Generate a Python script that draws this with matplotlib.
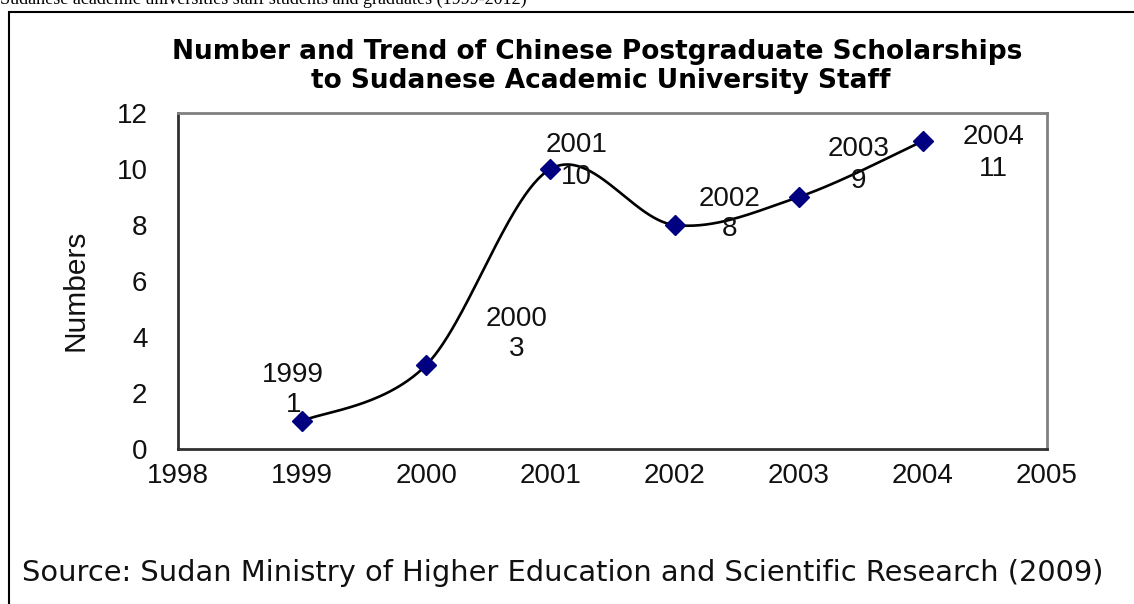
import matplotlib.pyplot as plt
import numpy as np
from matplotlib.patches import Rectangle

years = [1999, 2000, 2001, 2002, 2003, 2004]
scholarships = [1, 3, 10, 8, 9, 11]
# hand placed data labels, offset from each marker (pixels)
label_dx = [-9, 90, 26, 55, 60, 71]
label_dy = [31, 31, 8, 11, 32, -12]

plt.rcParams['font.family'] = ['Liberation Sans', 'DejaVu Sans']

DPI = 100
W, H = 1134, 604
fig = plt.figure(figsize=(W / DPI, H / DPI), dpi=DPI)
ax = fig.add_axes([178 / W, 1 - 449 / H, (1047 - 178) / W, (449 - 113) / H])


def smooth(xs, ys, n=60):
    # Catmull-Rom spline through the points, like a spreadsheet "smoothed line"
    x = np.asarray(xs, float)
    y = np.asarray(ys, float)
    px = np.concatenate([[x[0]], x, [x[-1]]])
    py = np.concatenate([[y[0]], y, [y[-1]]])
    outx, outy = [], []
    t = np.linspace(0, 1, n)
    for i in range(1, len(px) - 2):
        p0, p1, p2, p3 = (np.array([px[j], py[j]]) for j in (i - 1, i, i + 1, i + 2))
        c1 = p1 + (p2 - p0) / 6
        c2 = p2 - (p3 - p1) / 6
        b = ((1 - t) ** 3)[:, None] * p1 + (3 * (1 - t) ** 2 * t)[:, None] * c1 \
            + (3 * (1 - t) * t ** 2)[:, None] * c2 + (t ** 3)[:, None] * p2
        outx.extend(b[:, 0])
        outy.extend(b[:, 1])
    return outx, outy


sx, sy = smooth(years, scholarships)
ax.plot(sx, sy, color='black', lw=1.9, zorder=2)
ax.plot(years, scholarships, ls='none', marker='D', ms=10.5, color='#000080', zorder=3)

for x, y, dx, dy in zip(years, scholarships, label_dx, label_dy):
    ax.annotate(f"{x}\n{y}", (x, y), xytext=(dx * 72 / DPI, dy * 72 / DPI),
                textcoords='offset points', ha='center', va='center',
                fontsize=20, linespacing=1.25, color='#111111', zorder=4)

ax.set_xlim(1998, 2005)
ax.set_ylim(0, 12)
ax.set_xticks(range(1998, 2006))
ax.set_yticks(range(0, 13, 2))
ax.tick_params(length=0, labelsize=20, colors='#111111')
ax.tick_params(axis='x', pad=10)
ax.tick_params(axis='y', pad=22)
for s in ax.spines.values():
    s.set_color('#808080')
    s.set_linewidth(2)
ax.spines['left'].set_color('#303030')
ax.spines['bottom'].set_color('#303030')
ax.set_ylabel('Numbers', fontsize=21.5, color='#111111')
ax.yaxis.set_label_coords(90 / W, 1 - 290 / H, transform=fig.transFigure)

title_font = dict(ha='center', va='baseline', fontsize=19, fontweight='bold',
                  family='DejaVu Sans')
fig.text(597 / W, 1 - 59 / H, 'Number and Trend of Chinese Postgraduate Scholarships',
         **title_font)
fig.text(601 / W, 1 - 88 / H, 'to Sudanese Academic University Staff', **title_font)

fig.text(22 / W, 1 - 581 / H,
         'Source: Sudan Ministry of Higher Education and Scientific Research (2009)',
         ha='left', va='baseline', fontsize=20.8, family='DejaVu Sans', color='#111111')

fig.text(0, 1 - 4 / H,
         'Sudanese academic universities staff students and graduates (1999-2012)',
         ha='left', va='baseline', fontsize=13, family='Liberation Serif')

# outer frame around the chart, running off the right and bottom edges
fig.patches.append(Rectangle((9 / W, -0.1), 1.2, 1 - 12 / H + 0.1,
                             transform=fig.transFigure, fill=False,
                             edgecolor='black', lw=1.5))

fig.savefig('out.png', dpi=DPI)
